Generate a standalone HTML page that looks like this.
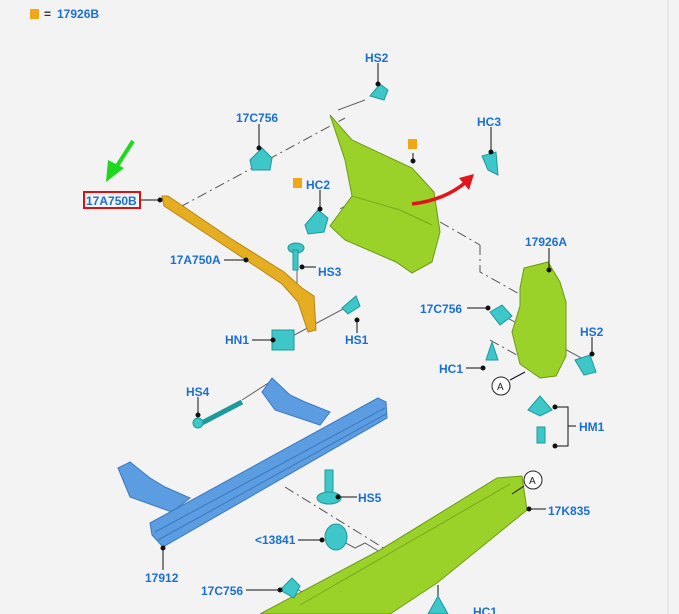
<!DOCTYPE html>
<html><head><meta charset="utf-8"><style>
html,body{margin:0;padding:0;background:#f3f3f3;}
svg{display:block}
text{font-family:"Liberation Sans",sans-serif;font-weight:bold;font-size:12px;fill:#1a6fd6}
</style></head><body>
<svg width="679" height="614" viewBox="0 0 679 614" xmlns="http://www.w3.org/2000/svg">
<rect width="679" height="614" fill="#f3f3f3"/>
<line x1="668" y1="0" x2="668" y2="614" stroke="#dcdcdc"/>
<rect x="30" y="9" width="9" height="10" fill="#f0a818"/>
<text x="44" y="18" style="fill:#333">=</text>
<text x="57" y="18">17926B</text>

<g stroke="#555" stroke-width="1" fill="none" stroke-dasharray="10,4,2,4">
<line x1="180" y1="207" x2="345" y2="118"/>
<line x1="440" y1="222" x2="480" y2="245"/>
<polyline points="480,245 480,272 530,300"/>
<line x1="490" y1="340" x2="540" y2="368"/>
<line x1="285" y1="487" x2="390" y2="552"/>
</g>
<g stroke="#666" stroke-width="1" fill="none">
<line x1="340" y1="209" x2="380" y2="185"/>
<line x1="297" y1="258" x2="297" y2="298"/>
<line x1="285" y1="340" x2="345" y2="308"/>
<line x1="500" y1="314" x2="585" y2="360"/>
<line x1="365" y1="100" x2="338" y2="110"/>
<line x1="242" y1="400" x2="273" y2="380"/>
<polyline points="340,540 355,548 365,543 380,552"/>
<line x1="290" y1="585" x2="340" y2="614"/>
</g>

<!-- green panel -->
<path d="M330,115 L352,140 L412,168 L434,192 L440,232 L432,262 L412,273 L396,262 L345,240 L330,226 L352,196 L345,160 Z" fill="#9bd22a" stroke="#6e9a14" stroke-width="1"/>
<path d="M352,196 L400,210 L432,225" stroke="#7aa81a" fill="none"/>
<path d="M412,204 Q445,200 466,182" stroke="#e0161b" stroke-width="3.5" fill="none"/>
<polygon points="474,174 459,178 469,190" fill="#e0161b"/>
<!-- bracket 17926A -->
<path d="M524,268 L548,262 L560,282 L566,302 L566,356 L556,376 L540,378 L520,364 L512,332 L520,306 L520,288 Z" fill="#9bd22a" stroke="#6e9a14"/>
<!-- yellow strip -->
<path d="M162,196 L168,196 L230,238 L284,272 L302,288 L314,296 L316,330 L308,332 L298,302 L282,284 L228,248 L164,206 Z" fill="#e4ad22" stroke="#b98510"/>
<!-- blue beam -->
<path d="M262,392 L272,378 L290,395 L305,402 L330,412 L320,425 L275,410 Z" fill="#5b9de0" stroke="#3a78c0"/>
<path d="M118,468 L130,462 L150,478 L165,487 L190,498 L172,512 L130,497 Z" fill="#5b9de0" stroke="#3a78c0"/>
<path d="M150,523 L378,398 L386,402 L387,418 L163,547 L152,535 Z" fill="#5b9de0" stroke="#3a78c0"/>
<line x1="155" y1="532" x2="385" y2="408" stroke="#3a78c0"/>
<line x1="158" y1="540" x2="386" y2="414" stroke="#3a78c0"/>
<!-- bottom bumper -->
<path d="M260,614 L380,550 L497,478 L522,476 L527,510 L437,583 L390,614 Z" fill="#9bd22a" stroke="#6e9a14"/>
<line x1="300" y1="605" x2="510" y2="484" stroke="#7aa81a"/>

<g fill="#3ec6c8" stroke="#1c9a9c">
<path d="M250,160 L262,148 L272,158 L270,170 L252,170 Z"/>
<path d="M370,96 L380,84 L388,90 L384,100 Z"/>
<path d="M482,156 L496,152 L498,175 L488,170 Z"/>
<path d="M305,225 L318,210 L328,218 L324,232 L308,234 Z"/>
<ellipse cx="296" cy="248" rx="8" ry="5"/><rect x="293" y="250" width="5" height="20"/>
<rect x="272" y="330" width="22" height="20"/>
<path d="M342,308 L356,296 L360,306 L348,314 Z"/>
<path d="M490,312 L502,305 L512,316 L500,325 Z"/>
<path d="M486,360 L492,342 L498,360 Z"/>
<path d="M575,360 L590,355 L596,372 L584,375 Z"/>
<path d="M528,410 L540,396 L552,410 L540,416 Z"/>
<rect x="537" y="427" width="8" height="16"/>
<line x1="198" y1="425" x2="242" y2="402" stroke-width="5"/>
<circle cx="198" cy="423" r="5"/>
<rect x="325" y="470" width="8" height="28"/><ellipse cx="329" cy="498" rx="12" ry="6"/>
<ellipse cx="336" cy="537" rx="11" ry="13"/>
<path d="M280,590 L292,578 L300,586 L294,598 Z"/>
<path d="M428,614 L438,596 L448,614 Z"/>
</g>

<g stroke="#111" stroke-width="1" fill="#111">
<line x1="378" y1="63" x2="378" y2="84"/><circle cx="378" cy="84" r="2"/>
<line x1="259" y1="124" x2="259" y2="148"/><circle cx="259" cy="148" r="2"/>
<line x1="491" y1="127" x2="491" y2="152"/><circle cx="491" cy="152" r="2"/>
<line x1="413" y1="153" x2="413" y2="161"/><circle cx="413" cy="161" r="2"/>
<line x1="320" y1="190" x2="320" y2="209"/><circle cx="320" cy="209" r="2"/>
<line x1="140" y1="200" x2="160" y2="200"/><circle cx="160" cy="200" r="2"/>
<line x1="549" y1="248" x2="549" y2="270"/><circle cx="549" cy="270" r="2"/>
<line x1="224" y1="260" x2="246" y2="260"/><circle cx="246" cy="260" r="2"/>
<line x1="302" y1="267" x2="316" y2="267"/><circle cx="302" cy="267" r="2"/>
<line x1="467" y1="308" x2="488" y2="308"/><circle cx="488" cy="308" r="2"/>
<line x1="592" y1="337" x2="592" y2="354"/><circle cx="592" cy="354" r="2"/>
<line x1="252" y1="340" x2="273" y2="340"/><circle cx="273" cy="340" r="2"/>
<line x1="357" y1="320" x2="357" y2="333"/><circle cx="357" cy="320" r="2"/>
<line x1="466" y1="368" x2="483" y2="368"/><circle cx="483" cy="368" r="2"/>
<line x1="198" y1="397" x2="198" y2="415"/><circle cx="198" cy="415" r="2"/>
<polyline points="555,407 568,407 568,446 555,446" fill="none"/><circle cx="555" cy="407" r="2"/><circle cx="555" cy="446" r="2"/>
<line x1="568" y1="426" x2="576" y2="426"/>
<line x1="338" y1="497" x2="357" y2="497"/><circle cx="338" cy="497" r="2"/>
<line x1="529" y1="509" x2="546" y2="509"/><circle cx="529" cy="509" r="2"/>
<line x1="298" y1="540" x2="322" y2="540"/><circle cx="322" cy="540" r="2"/>
<line x1="163" y1="548" x2="163" y2="570"/><circle cx="163" cy="548" r="2"/>
<line x1="246" y1="590" x2="280" y2="590"/><circle cx="280" cy="590" r="2"/>
<line x1="438" y1="585" x2="438" y2="596"/>
<line x1="510" y1="380" x2="525" y2="372"/>
<line x1="524" y1="486" x2="512" y2="494"/>
</g>
<g fill="#f0a818"><rect x="408" y="139" width="9" height="10"/><rect x="293" y="178" width="9" height="10"/></g>
<g fill="#fff" stroke="#222"><circle cx="501" cy="386" r="9"/><circle cx="533" cy="480" r="9"/></g>
<text x="497" y="390" style="fill:#222;font-size:10px;font-weight:normal">A</text>
<text x="529" y="484" style="fill:#222;font-size:10px;font-weight:normal">A</text>
<line x1="133" y1="141" x2="117" y2="166" stroke="#1ed81e" stroke-width="4"/>
<polygon points="106,182 108,160 124,168" fill="#1ed81e"/>
<rect x="84" y="192" width="56" height="16" fill="none" stroke="#e01010" stroke-width="2"/>

<text x="365" y="62">HS2</text>
<text x="236" y="122">17C756</text>
<text x="477" y="126">HC3</text>
<text x="306" y="189">HC2</text>
<text x="86" y="205">17A750B</text>
<text x="525" y="246">17926A</text>
<text x="170" y="264">17A750A</text>
<text x="318" y="276">HS3</text>
<text x="420" y="313">17C756</text>
<text x="580" y="336">HS2</text>
<text x="225" y="344">HN1</text>
<text x="345" y="344">HS1</text>
<text x="439" y="373">HC1</text>
<text x="186" y="396">HS4</text>
<text x="579" y="431">HM1</text>
<text x="358" y="502">HS5</text>
<text x="548" y="515">17K835</text>
<text x="255" y="544">&lt;13841</text>
<text x="145" y="582">17912</text>
<text x="201" y="595">17C756</text>
<text x="473" y="616">HC1</text>
</svg>
</body></html>
